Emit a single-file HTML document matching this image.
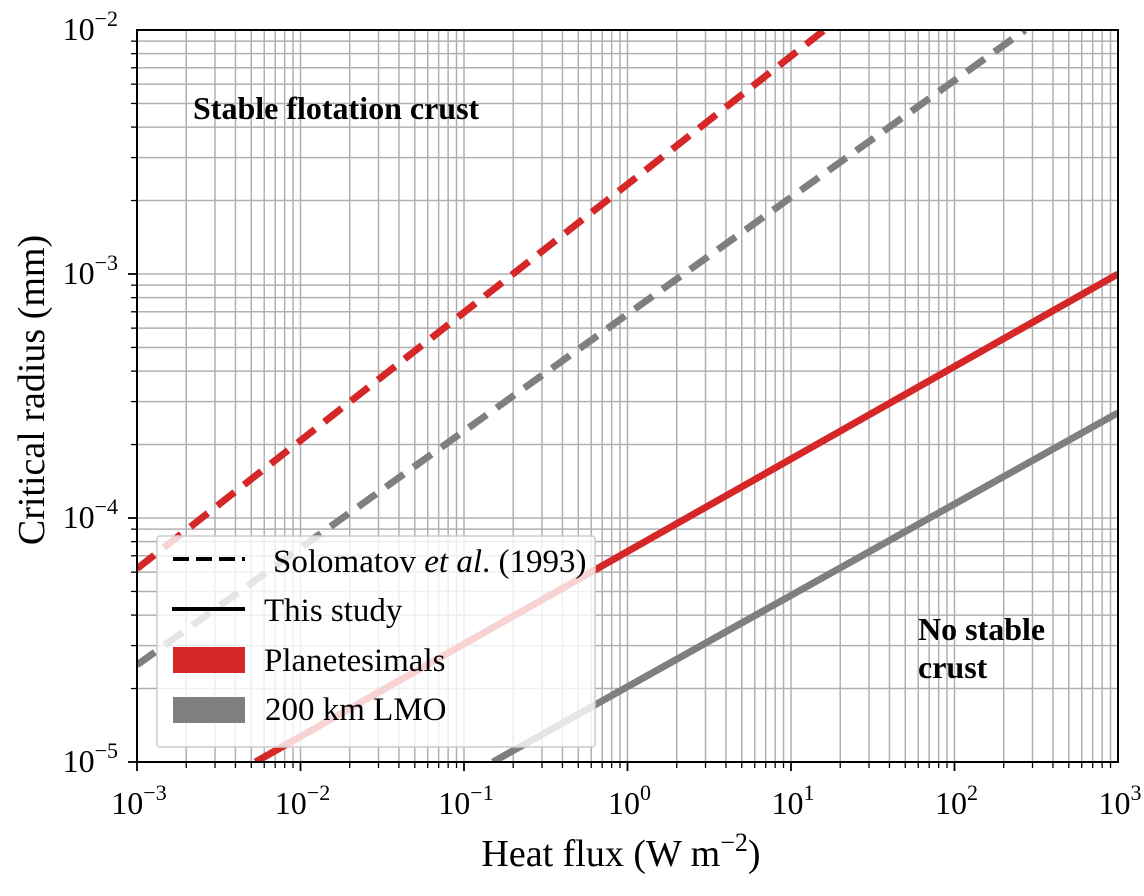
<!DOCTYPE html>
<html><head><meta charset="utf-8"><style>
body{margin:0;background:#fff;}
svg text{font-family:"Liberation Serif",serif;fill:#000;}
</style></head><body>
<svg id="chart" width="1144" height="891">
<g id="grid"></g>
<g id="series"></g>
<rect x="157" y="536" width="438" height="211" fill="#fff" fill-opacity="0.8" stroke="#ccc" stroke-width="1.5" rx="3"/>
<g>
<g><line x1="173" y1="559" x2="245" y2="559" stroke="#000" stroke-width="4" stroke-dasharray="16,7"/><text x="273" y="572" font-size="33">Solomatov <tspan font-style="italic">et al</tspan>. (1993)</text></g>
<g><line x1="172" y1="609" x2="245" y2="609" stroke="#000" stroke-width="4"/><text x="264" y="621" font-size="33">This study</text></g>
<g><rect x="173" y="647" width="72" height="26" fill="#d62728"/><text x="264" y="671" font-size="33">Planetesimals</text></g>
<g><rect x="173" y="697" width="72" height="26" fill="#7f7f7f"/><text x="265" y="720" font-size="33">200 km LMO</text></g>
</g>
<g id="axes"></g>
<text x="193" y="119" font-size="32" font-weight="bold">Stable flotation crust</text>
<text x="918" y="640" font-size="32" font-weight="bold">No stable</text>
<text x="918" y="678" font-size="32" font-weight="bold">crust</text>
<text x="621" y="866" font-size="38" text-anchor="middle">Heat flux (W m<tspan dy="-15" font-size="26">−2</tspan><tspan dy="15">)</tspan></text>
<text transform="translate(44,390) rotate(-90)" font-size="38" text-anchor="middle">Critical radius (mm)</text>
</svg>
<script>
const xTickExps=[-3,-2,-1,0,1,2,3];
const yTickExps=[-5,-4,-3,-2];
const seriesNames=['solomatov-planetesimals','solomatov-lmo','this-study-planetesimals','this-study-lmo'];
const seriesX=[[1e-3,16],[1e-3,270],[5.3e-3,1e3],[1.5e-1,1e3]];
const seriesY=[[6.2e-5,1e-2],[2.5e-5,1e-2],[1e-5,1e-3],[1e-5,2.7e-4]];
const seriesColor=['#d62728','#7f7f7f','#d62728','#7f7f7f'];
const seriesDash=['22,12','22,12','',''];
const X0=137,X1=1118,Y0=30,Y1=762;
const xs=v=>X0+(Math.log10(v)+3)/6*(X1-X0);
const ys=v=>Y1-(Math.log10(v)+5)/3*(Y1-Y0);
const NS='http://www.w3.org/2000/svg';
function mk(t,a,p){const e=document.createElementNS(NS,t);for(const k in a)e.setAttribute(k,a[k]);p.appendChild(e);return e;}
const grid=document.getElementById('grid'),axes=document.getElementById('axes'),ser=document.getElementById('series');
for(let e=-3;e<3;e++)for(let m=1;m<10;m++){const x=xs(m*Math.pow(10,e));
const l=mk('line',{x1:x,x2:x,y1:Y0,y2:Y1,stroke:'#b0b0b0','stroke-width':1.5},grid);

const t=mk('line',{x1:x,x2:x,y1:Y1,y2:Y1+(m==1?9:6),stroke:'#000','stroke-width':m==1?1.8:1.3},axes);
}
for(let e=-5;e<-2;e++)for(let m=1;m<10;m++){const y=ys(m*Math.pow(10,e));
const l=mk('line',{x1:X0,x2:X1,y1:y,y2:y,stroke:'#b0b0b0','stroke-width':1.5},grid);

const t=mk('line',{x1:X0-(m==1?9:6),x2:X0,y1:y,y2:y,stroke:'#000','stroke-width':m==1?1.8:1.3},axes);
}
seriesNames.forEach((n,i)=>{const pts=seriesX[i].map((x,j)=>xs(x)+','+ys(seriesY[i][j])).join(' ');
const p=mk('polyline',{points:pts,fill:'none',stroke:seriesColor[i],'stroke-width':7,'stroke-dasharray':seriesDash[i]},ser);
});
const clip=mk('clipPath',{id:'c'},document.getElementById('chart'));mk('rect',{x:X0,y:Y0,width:X1-X0,height:Y1-Y0},clip);
ser.setAttribute('clip-path','url(#c)');
const fr=mk('rect',{x:X0,y:Y0,width:X1-X0,height:Y1-Y0,fill:'none',stroke:'#000','stroke-width':2},axes);

xTickExps.forEach(e=>{const t=mk('text',{x:xs(Math.pow(10,e))+2,y:814,'font-size':32,'text-anchor':'middle'},axes);
t.innerHTML='10<tspan dy="-14" font-size="22">'+(e<0?'−'+(-e):e)+'</tspan>';
});
yTickExps.forEach(e=>{const t=mk('text',{x:X0-19,y:ys(Math.pow(10,e))+10,'font-size':32,'text-anchor':'end'},axes);
t.innerHTML='10<tspan dy="-14" font-size="22">'+(e<0?'−'+(-e):e)+'</tspan>';
});
</script>
</body></html>
